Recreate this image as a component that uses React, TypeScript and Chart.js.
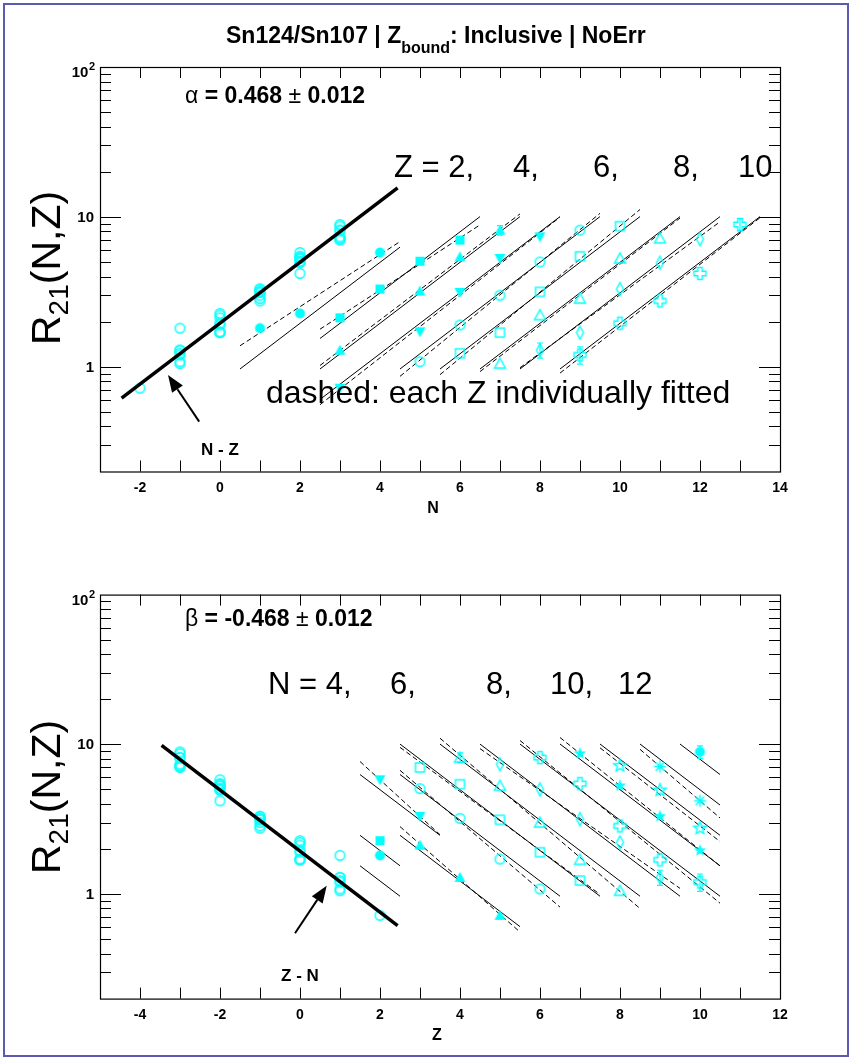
import React, { useEffect, useRef } from "react";
import { Chart, registerables } from "chart.js";

Chart.register(...registerables);

const FONT = "'Liberation Sans', Arial, Helvetica, sans-serif";
const CYAN = "#00ffff";

// ---------------- data (R21) ----------------
// Groups by proton number Z (top panel), neutron numbers and ratios
const zList = [2, 3, 4, 5, 6, 7, 8, 9, 10];
const nByZ = [
  [1, 2, 4],
  [3, 4, 5, 6],
  [3, 5, 6, 7],
  [3, 5, 6, 7, 8],
  [5, 6, 7, 8, 9],
  [6, 7, 8, 9, 10],
  [7, 8, 9, 10, 11],
  [8, 9, 10, 11, 12],
  [9, 10, 11, 12, 13],
];
const rByZ = [
  [1.81, 2.27, 5.79],
  [2.12, 3.3, 5.06, 7.0],
  [1.29, 3.2, 5.41, 8.15],
  [0.72, 1.71, 3.13, 5.28, 7.36],
  [1.08, 1.9, 3.0, 5.0, 8.15],
  [1.23, 1.69, 3.16, 5.46, 8.67],
  [1.05, 2.21, 2.85, 5.28, 7.19],
  [1.29, 1.69, 3.3, 4.94, 7.1],
  [1.2, 1.95, 2.75, 4.19, 8.9],
];
// neutron numbers used for the bottom panel groups
const nList = [1, 2, 3, 4, 5, 6, 7, 8, 9, 10, 11, 12, 13];

// error bars that stick out of the markers: Z, N, +/- error
const errZ = [4, 9, 10, 10];
const errN = [7, 8, 9, 13];
const errV = [0.6, 0.15, 0.16, 0.85];

// top panel fit lines (per Z): N range, global-slope fit (solid), individual fit (dashed)
const topFitLo = [0.5, 2.5, 2.5, 2.5, 4.5, 5.5, 6.5, 7.5, 8.5];
const topFitHi = [4.5, 6.5, 7.5, 8.5, 9.5, 10.5, 11.5, 12.5, 13.5];
const topSolidLo = [0.966, 1.543, 0.966, 0.605, 0.966, 0.966, 0.966, 0.966, 0.966];
const topSolidHi = [6.28, 10.04, 10.04, 10.04, 10.04, 10.04, 10.04, 10.04, 10.04];
const topDashLo = [1.38, 1.78, 1.02, 0.558, 0.863, 0.885, 0.928, 0.985, 0.907];
const topDashHi = [6.84, 8.84, 10.47, 9.96, 10.56, 11.2, 9.82, 9.27, 9.87];

// bottom panel fit lines (per N): Z range, solid, dashed (null = no individual fit)
const botFitLo = [1.5, 1.5, 2.5, 1.5, 2.5, 2.5, 3.5, 4.5, 5.5, 6.5, 7.5, 8.5, 9.5];
const botFitHi = [2.5, 2.5, 5.5, 3.5, 6.5, 7.5, 8.5, 9.5, 10.5, 10.5, 10.5, 10.5, 10.5];
const botSolidLo = [1.543, 2.465, 2.465, 6.28, 6.28, 10.03, 10.03, 10.03, 10.03, 10.04, 10.04, 10.04, 10.04];
const botSolidHi = [0.966, 1.543, 0.605, 2.465, 0.966, 0.966, 0.966, 0.966, 0.966, 1.543, 2.465, 3.93, 6.28];
const botDashLo = [null, null, 2.82, 7.67, 6.7, 9.54, 10.98, 9.35, 10.6, 11.1, 9.47, 9.25, null];
const botDashHi = [null, null, 0.557, 2.49, 0.817, 0.994, 0.8, 1.09, 0.868, 1.54, 2.24, 3.22, null];

// global scaling lines (thick)
const topThickX = [-2.46, 4.44];
const topThickY = [0.617, 15.6];
const botThickX = [-3.46, 2.44];
const botThickY = [9.85, 0.615];

// axis ticks
const topXTicks = [-2, 0, 2, 4, 6, 8, 10, 12, 14];
const botXTicks = [-4, -2, 0, 2, 4, 6, 8, 10, 12];
const yLabelValues = [1, 10, 100];

// ---------------- markers ----------------
function makeMarker(kind: number): HTMLCanvasElement {
  const s = 17;
  const c = 8.5;
  const cv = document.createElement("canvas");
  cv.width = s;
  cv.height = s;
  const g = cv.getContext("2d")!;
  g.strokeStyle = CYAN;
  g.fillStyle = CYAN;
  g.lineWidth = 1.4;
  const poly = (pts: number[][], fill: boolean) => {
    g.beginPath();
    pts.forEach((p, i) => (i === 0 ? g.moveTo(c + p[0], c + p[1]) : g.lineTo(c + p[0], c + p[1])));
    g.closePath();
    if (fill) g.fill();
    else g.stroke();
  };
  const star = (fill: boolean) => {
    const pts: number[][] = [];
    for (let k = 0; k < 10; k++) {
      const ang = -Math.PI / 2 + (k * Math.PI) / 5;
      const r = k % 2 === 0 ? 6.5 : 2.8;
      pts.push([r * Math.cos(ang), r * Math.sin(ang)]);
    }
    poly(pts, fill);
  };
  switch (kind) {
    case 0:
      g.beginPath();
      g.arc(c, c, 5, 0, Math.PI * 2);
      g.fill();
      break;
    case 1:
      g.fillRect(c - 4.5, c - 4.5, 9, 9);
      break;
    case 2:
      poly([[0, -5.5], [5.5, 4.5], [-5.5, 4.5]], true);
      break;
    case 3:
      poly([[0, 5.5], [5.5, -4.5], [-5.5, -4.5]], true);
      break;
    case 4:
      g.beginPath();
      g.arc(c, c, 4.8, 0, Math.PI * 2);
      g.stroke();
      break;
    case 5:
      g.strokeRect(c - 4.5, c - 4.5, 9, 9);
      break;
    case 6:
      poly([[0, -5.5], [5.5, 4.5], [-5.5, 4.5]], false);
      break;
    case 7:
      poly([[0, -6.5], [3.5, 0], [0, 6.5], [-3.5, 0]], false);
      break;
    case 8: {
      const w = 2.2;
      const L = 6;
      poly(
        [[-w, -L], [w, -L], [w, -w], [L, -w], [L, w], [w, w], [w, L], [-w, L], [-w, w], [-L, w], [-L, -w], [-w, -w]],
        false
      );
      break;
    }
    case 9:
      star(true);
      break;
    case 10:
      star(false);
      break;
    default: {
      g.beginPath();
      for (let k = 0; k < 4; k++) {
        const ang = (k * Math.PI) / 4;
        g.moveTo(c - 6 * Math.cos(ang), c - 6 * Math.sin(ang));
        g.lineTo(c + 6 * Math.cos(ang), c + 6 * Math.sin(ang));
      }
      g.stroke();
    }
  }
  return cv;
}

// ---------------- helpers ----------------
type Run = { t: string; font: string; dy?: number };

function drawRuns(ctx: CanvasRenderingContext2D, x: number, y: number, runs: Run[]) {
  let cx = x;
  ctx.textAlign = "left";
  ctx.textBaseline = "alphabetic";
  for (const r of runs) {
    ctx.font = r.font;
    ctx.fillText(r.t, cx, y + (r.dy || 0));
    cx += ctx.measureText(r.t).width;
  }
}

function drawArrow(ctx: CanvasRenderingContext2D, x1: number, y1: number, x2: number, y2: number) {
  const ang = Math.atan2(y2 - y1, x2 - x1);
  const hl = 17;
  const hw = 6.5;
  const bx = x2 - hl * Math.cos(ang);
  const by = y2 - hl * Math.sin(ang);
  ctx.strokeStyle = "#000";
  ctx.fillStyle = "#000";
  ctx.lineWidth = 2;
  ctx.beginPath();
  ctx.moveTo(x1, y1);
  ctx.lineTo(bx, by);
  ctx.stroke();
  ctx.beginPath();
  ctx.moveTo(x2, y2);
  ctx.lineTo(bx + hw * Math.sin(ang), by - hw * Math.cos(ang));
  ctx.lineTo(bx - hw * Math.sin(ang), by + hw * Math.cos(ang));
  ctx.closePath();
  ctx.fill();
}

interface Panel {
  id: string;
  xMin: number;
  xMax: number;
  padTop: number;
  padBottom: number;
  xTicks: number[];
  xTitle: string;
  xTitleX: number;
  yTitleStart: number;
  coef: Run[];
  coefY: number;
  groupLabels: { t: string; x: number }[];
  groupY: number;
  note?: { t: string; x: number; y: number };
  arrowFrom: number[];
  arrowTo: number[];
  arrowLabel: { t: string; x: number; y: number };
  title: boolean;
  errors: { x: number; y: number; e: number }[];
}

function panelPlugin(p: Panel) {
  return {
    id: "rootStyle" + p.id,
    afterDraw(chart: any) {
      const ctx: CanvasRenderingContext2D = chart.ctx;
      const a = chart.chartArea;
      const xs = chart.scales.x;
      const ys = chart.scales.y;
      ctx.save();

      // error bars
      ctx.strokeStyle = CYAN;
      ctx.lineWidth = 1.2;
      for (const e of p.errors) {
        const px = xs.getPixelForValue(e.x);
        const y1 = ys.getPixelForValue(e.y - e.e);
        const y2 = ys.getPixelForValue(e.y + e.e);
        ctx.beginPath();
        ctx.moveTo(px, y1);
        ctx.lineTo(px, y2);
        ctx.moveTo(px - 3, y1);
        ctx.lineTo(px + 3, y1);
        ctx.moveTo(px - 3, y2);
        ctx.lineTo(px + 3, y2);
        ctx.stroke();
      }

      // frame
      ctx.strokeStyle = "#000";
      ctx.lineWidth = 1.2;
      ctx.strokeRect(a.left + 0.5, a.top + 0.5, a.right - a.left, a.bottom - a.top);

      // x ticks (inward, every unit)
      ctx.lineWidth = 1;
      ctx.beginPath();
      for (let v = Math.ceil(xs.min); v <= xs.max; v++) {
        if (v <= xs.min || v >= xs.max) continue;
        const px = Math.round(xs.getPixelForValue(v)) + 0.5;
        ctx.moveTo(px, a.bottom);
        ctx.lineTo(px, a.bottom - 11);
        ctx.moveTo(px, a.top);
        ctx.lineTo(px, a.top + 11);
      }
      // y ticks (log, inward, both sides)
      for (let ex = -1; ex <= 2; ex++) {
        for (let m = 1; m <= 9; m++) {
          const v = m * Math.pow(10, ex);
          if (v <= ys.min + 1e-9 || v >= ys.max - 1e-9) continue;
          const py = Math.round(ys.getPixelForValue(v)) + 0.5;
          const len = m === 1 ? 21 : 11;
          ctx.moveTo(a.left, py);
          ctx.lineTo(a.left + len, py);
          ctx.moveTo(a.right, py);
          ctx.lineTo(a.right - len, py);
        }
      }
      ctx.stroke();

      // tick labels
      ctx.fillStyle = "#000";
      ctx.textBaseline = "alphabetic";
      ctx.font = `bold 14px ${FONT}`;
      ctx.textAlign = "center";
      for (const v of p.xTicks) {
        ctx.fillText(String(v), xs.getPixelForValue(v), a.bottom + 20);
      }
      for (const v of yLabelValues) {
        const py = ys.getPixelForValue(v);
        ctx.textAlign = "right";
        if (v === 100) {
          ctx.font = `bold 11px ${FONT}`;
          const w2 = ctx.measureText("2").width;
          ctx.fillText("2", 95, py + 3);
          ctx.font = `bold 15px ${FONT}`;
          ctx.fillText("10", 95 - w2 - 0.5, py + 10);
        } else {
          ctx.font = `bold 15px ${FONT}`;
          ctx.fillText(String(v), 94, py + 5);
        }
      }

      // axis titles
      ctx.textAlign = "center";
      ctx.font = `bold 16px ${FONT}`;
      ctx.fillText(p.xTitle, p.xTitleX, a.bottom + 41);

      ctx.save();
      ctx.translate(60, p.yTitleStart);
      ctx.rotate(-Math.PI / 2);
      drawRuns(ctx, 0, 0, [
        { t: "R", font: `41px ${FONT}` },
        { t: "21", font: `28px ${FONT}`, dy: 8 },
        { t: "(N,Z)", font: `41px ${FONT}` },
      ]);
      ctx.restore();

      // fit coefficient
      drawRuns(ctx, 185, p.coefY, p.coef);

      // group labels
      ctx.font = `31px ${FONT}`;
      ctx.textAlign = "left";
      for (const g of p.groupLabels) ctx.fillText(g.t, g.x, p.groupY);

      if (p.note) {
        ctx.font = `32px ${FONT}`;
        ctx.fillText(p.note.t, p.note.x, p.note.y);
      }

      // arrow and label
      drawArrow(
        ctx,
        xs.getPixelForValue(p.arrowFrom[0]),
        ys.getPixelForValue(p.arrowFrom[1]),
        xs.getPixelForValue(p.arrowTo[0]),
        ys.getPixelForValue(p.arrowTo[1])
      );
      ctx.fillStyle = "#000";
      ctx.font = `bold 17px ${FONT}`;
      ctx.textAlign = "center";
      ctx.fillText(p.arrowLabel.t, p.arrowLabel.x, p.arrowLabel.y);

      // title
      if (p.title) {
        drawRuns(ctx, 226, 43, [
          { t: "Sn124/Sn107 | Z", font: `bold 23px ${FONT}` },
          { t: "bound", font: `bold 16px ${FONT}`, dy: 10 },
          { t: ": Inclusive | NoErr", font: `bold 23px ${FONT}` },
        ]);
      }
      ctx.restore();
    },
  };
}

function lineDs(x: number[], y: number[], width: number, dash: number[]) {
  return {
    data: x.map((v, i) => ({ x: v, y: y[i] })),
    showLine: true,
    borderColor: "#000",
    backgroundColor: "#000",
    borderWidth: width,
    borderDash: dash,
    pointRadius: 0,
    fill: false,
  };
}

function buildConfig(p: Panel, datasets: any[]) {
  return {
    type: "scatter" as const,
    data: { datasets },
    options: {
      animation: false as const,
      responsive: false,
      events: [],
      layout: { padding: { left: 100, right: 83, top: p.padTop, bottom: p.padBottom } },
      plugins: { legend: { display: false }, tooltip: { enabled: false }, title: { display: false } },
      scales: {
        x: { type: "linear" as const, min: p.xMin, max: p.xMax, display: false },
        y: { type: "logarithmic" as const, min: 0.2, max: 100, display: false },
      },
    },
    plugins: [panelPlugin(p)],
  };
}

function topDatasets(markers: HTMLCanvasElement[]) {
  const ds: any[] = [];
  ds.push(lineDs(topThickX, topThickY, 3.5, []));
  zList.forEach((z, i) => {
    ds.push({
      data: nByZ[i].map((n, j) => ({ x: n, y: rByZ[i][j] })),
      pointStyle: markers[i % 12],
      pointRadius: 5,
      showLine: false,
    });
  });
  const diff: { x: number; y: number }[] = [];
  zList.forEach((z, i) => nByZ[i].forEach((n, j) => diff.push({ x: n - z, y: rByZ[i][j] })));
  ds.push({ data: diff, pointStyle: markers[4], pointRadius: 5, showLine: false });
  zList.forEach((z, i) => {
    ds.push(lineDs([topFitLo[i], topFitHi[i]], [topSolidLo[i], topSolidHi[i]], 1, []));
    ds.push(lineDs([topFitLo[i], topFitHi[i]], [topDashLo[i], topDashHi[i]], 1, [5, 3]));
  });
  return ds;
}

function bottomDatasets(markers: HTMLCanvasElement[]) {
  const ds: any[] = [];
  ds.push(lineDs(botThickX, botThickY, 3.5, []));
  nList.forEach((n, k) => {
    const pts: { x: number; y: number }[] = [];
    zList.forEach((z, i) => {
      const j = nByZ[i].indexOf(n);
      if (j >= 0) pts.push({ x: z, y: rByZ[i][j] });
    });
    ds.push({ data: pts, pointStyle: markers[k % 12], pointRadius: 5, showLine: false });
  });
  const diff: { x: number; y: number }[] = [];
  zList.forEach((z, i) => nByZ[i].forEach((n, j) => diff.push({ x: z - n, y: rByZ[i][j] })));
  ds.push({ data: diff, pointStyle: markers[4], pointRadius: 5, showLine: false });
  nList.forEach((n, k) => {
    ds.push(lineDs([botFitLo[k], botFitHi[k]], [botSolidLo[k], botSolidHi[k]], 1, []));
    const dl = botDashLo[k];
    const dh = botDashHi[k];
    if (dl !== null && dh !== null) ds.push(lineDs([botFitLo[k], botFitHi[k]], [dl, dh], 1, [5, 3]));
  });
  return ds;
}

const topPanel: Panel = {
  id: "top",
  xMin: -3,
  xMax: 14,
  padTop: 67,
  padBottom: 58.5,
  xTicks: topXTicks,
  xTitle: "N",
  xTitleX: 433,
  yTitleStart: 345,
  coef: [
    { t: "\u03b1", font: `23px ${FONT}` },
    { t: " = 0.468 ", font: `bold 23px ${FONT}` },
    { t: "\u00b1", font: `23px ${FONT}` },
    { t: " 0.012", font: `bold 23px ${FONT}` },
  ],
  coefY: 103,
  groupLabels: [
    { t: "Z = 2,", x: 394 },
    { t: "4,", x: 513 },
    { t: "6,", x: 593 },
    { t: "8,", x: 673 },
    { t: "10", x: 738 },
  ],
  groupY: 177,
  note: { t: "dashed: each Z individually fitted", x: 266, y: 403 },
  arrowFrom: [-0.52, 0.43],
  arrowTo: [-1.3, 0.88],
  arrowLabel: { t: "N - Z", x: 220, y: 455 },
  title: true,
  errors: errZ.map((z, k) => {
    const i = zList.indexOf(z);
    const j = nByZ[i].indexOf(errN[k]);
    return { x: errN[k], y: rByZ[i][j], e: errV[k] };
  }),
};

const bottomPanel: Panel = {
  id: "bottom",
  xMin: -5,
  xMax: 12,
  padTop: 64.6,
  padBottom: 61.4,
  xTicks: botXTicks,
  xTitle: "Z",
  xTitleX: 437,
  yTitleStart: 344,
  coef: [
    { t: "\u03b2", font: `23px ${FONT}` },
    { t: " = -0.468 ", font: `bold 23px ${FONT}` },
    { t: "\u00b1", font: `23px ${FONT}` },
    { t: " 0.012", font: `bold 23px ${FONT}` },
  ],
  coefY: 96,
  groupLabels: [
    { t: "N = 4,", x: 268 },
    { t: "6,", x: 390 },
    { t: "8,", x: 486 },
    { t: "10,", x: 550 },
    { t: "12", x: 618 },
  ],
  groupY: 164,
  arrowFrom: [-0.125, 0.547],
  arrowTo: [0.667, 1.136],
  arrowLabel: { t: "Z - N", x: 300, y: 451 },
  title: false,
  errors: errZ.map((z, k) => {
    const i = zList.indexOf(z);
    const j = nByZ[i].indexOf(errN[k]);
    return { x: z, y: rByZ[i][j], e: errV[k] };
  }),
};

export default function App() {
  const topRef = useRef<HTMLCanvasElement>(null);
  const botRef = useRef<HTMLCanvasElement>(null);

  useEffect(() => {
    const markers = Array.from({ length: 12 }, (_, k) => makeMarker(k));
    const c1 = new Chart(topRef.current!, buildConfig(topPanel, topDatasets(markers)) as any);
    const c2 = new Chart(botRef.current!, buildConfig(bottomPanel, bottomDatasets(markers)) as any);
    return () => {
      c1.destroy();
      c2.destroy();
    };
  }, []);

  return (
    <div
      style={{
        position: "absolute",
        left: 0,
        top: 0,
        width: 863,
        height: 1060,
        background: "#ffffff",
        overflow: "hidden",
      }}
    >
      <div
        style={{
          position: "absolute",
          left: 3,
          top: 3,
          width: 846,
          height: 1054,
          border: "2px solid #5a5ab0",
          boxSizing: "border-box",
        }}
      />
      <canvas
        ref={topRef}
        width={863}
        height={530}
        style={{ position: "absolute", left: 0, top: 0, width: 863, height: 530 }}
      />
      <canvas
        ref={botRef}
        width={863}
        height={530}
        style={{ position: "absolute", left: 0, top: 530, width: 863, height: 530 }}
      />
    </div>
  );
}
